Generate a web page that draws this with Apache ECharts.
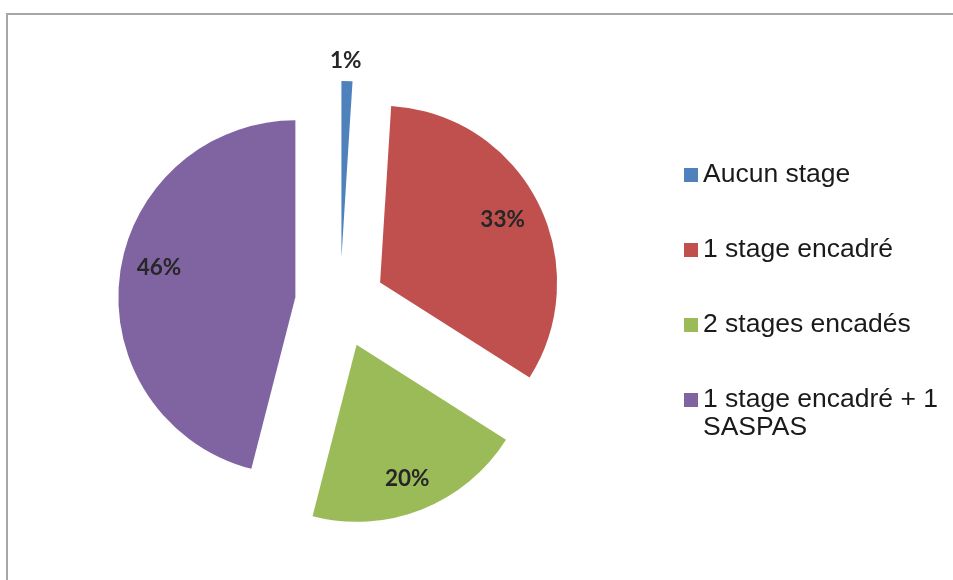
<!DOCTYPE html>
<html>
<head>
<meta charset="utf-8">
<script src="https://cdn.jsdelivr.net/npm/echarts@6/dist/echarts.min.js"></script>
<style>
html,body{margin:0;padding:0;background:#fff;}
#chart{width:953px;height:580px;}
</style>
</head>
<body>
<div id="chart"></div>
<script>
const categories = ['Aucun stage', '1 stage encadré', '2 stages encadés', '1 stage encadré + 1 SASPAS'];
const values = [1, 33, 20, 46];
const colors = ['#4F81BD', '#C0504D', '#9BBB59', '#8064A2'];

const chart = echarts.init(document.getElementById('chart'));
const center = [340, 303];
const R = 177;
const offset = 45;
// per-slice label nudges (padding) to mimic the original label placement
const labelPads = [[0, 0, 120, 0], [0, 0, 0, 0], [12, 0, 0, 0], [0, 0, 24, 0]];

const labelFont = {
  fontFamily: 'Lato, Open Sans, sans-serif',
  fontWeight: 'bold',
  fontSize: 22.5,
  color: '#262626'
};
const rich = {};
labelPads.forEach((p, i) => { rich['p' + i] = Object.assign({ padding: p }, labelFont); });

const mainData = categories.map((name, i) => ({
  name: name, value: values[i], selected: true,
  itemStyle: { color: colors[i] }
}));
const labelData = categories.map((name, i) => ({
  name: name, value: values[i], selected: true
}));

const legendBase = {
  orient: 'vertical',
  left: 679,
  icon: 'rect',
  itemWidth: 14,
  itemHeight: 14,
  itemGap: 47,
  selectedMode: false,
  textStyle: {
    fontFamily: 'Liberation Sans, Arial, sans-serif',
    fontSize: 26.5,
    color: '#1a1a1a',
    lineHeight: 28
  }
};

chart.setOption({
  animation: false,
  backgroundColor: '#ffffff',
  color: colors,
  graphic: [{
    type: 'rect', silent: true, z: -10,
    shape: { x: 7, y: 14, width: 980, height: 620 },
    style: { fill: 'none', stroke: '#a6a6a6', lineWidth: 2 }
  }],
  legend: [
    Object.assign({}, legendBase, { top: 156, data: categories.slice(0, 3) }),
    Object.assign({}, legendBase, {
      top: 353,
      data: categories.slice(3),
      formatter: function (name) { return '\n' + name.replace(' + 1 ', ' + 1\n'); }
    })
  ],
  series: [{
    type: 'pie',
    center: center,
    radius: [0, R],
    startAngle: 90,
    clockwise: true,
    selectedMode: 'multiple',
    selectedOffset: offset,
    data: mainData,
    label: { show: false },
    labelLine: { show: false },
    emphasis: { disabled: true },
    itemStyle: { borderWidth: 0 }
  }, {
    type: 'pie',
    center: center,
    radius: [0.52 * R, R],
    startAngle: 90,
    clockwise: true,
    selectedMode: 'multiple',
    selectedOffset: offset,
    silent: true,
    data: labelData,
    z: 5,
    itemStyle: { color: 'rgba(0,0,0,0)', borderWidth: 0 },
    emphasis: { disabled: true },
    label: Object.assign({
      show: true,
      position: 'inside',
      formatter: function (p) { return '{p' + p.dataIndex + '|' + p.value + '%}'; },
      rich: rich
    }, labelFont),
    labelLine: { show: false }
  }]
});
</script>
</body>
</html>
